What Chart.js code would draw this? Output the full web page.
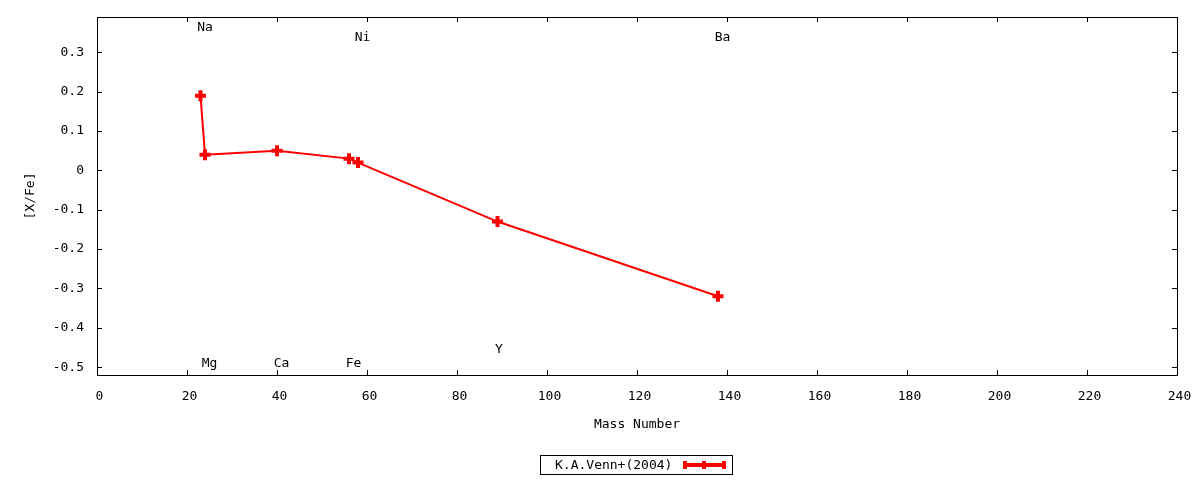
<!DOCTYPE html>
<html lang="en">
<head>
  <meta charset="UTF-8" />
  <title>[X/Fe] vs Mass Number</title>
  <script src="https://cdn.jsdelivr.net/npm/chart.js"></script>
  <style>
    html, body { margin: 0; padding: 0; background: #fff; }
    #wrap { width: 1200px; height: 480px; }
  </style>
</head>
<body>
<div id="wrap"><canvas id="abund"></canvas></div>
<script>
  // data
  const elements = ["Na", "Mg", "Ca", "Fe", "Ni", "Y", "Ba"];
  const massNumber = [23, 24, 40, 56, 58, 89, 138];
  const xFe = [0.19, 0.04, 0.05, 0.03, 0.02, -0.13, -0.32];
  // where each element name is written
  const labelX = [24, 25, 41, 57, 59, 89.3, 139];
  const labelY = [0.362, -0.492, -0.492, -0.492, 0.338, -0.455, 0.338];
  const xTicks = [0, 20, 40, 60, 80, 100, 120, 140, 160, 180, 200, 220, 240];
  const yTicks = [-0.5, -0.4, -0.3, -0.2, -0.1, 0, 0.1, 0.2, 0.3];
  const seriesName = "K.A.Venn+(2004)";

  const FONT = "'DejaVu Sans Mono', monospace";

  // frame, inward ticks on all four sides, element labels and the boxed key
  const gnuplotLook = {
    id: "gnuplotLook",
    afterDatasetsDraw(chart) {
      const { ctx, chartArea: a, scales } = chart;
      const xs = scales.x, ys = scales.y;
      ctx.save();
      ctx.strokeStyle = "#000";
      ctx.lineWidth = 1;
      ctx.beginPath();
      xs.ticks.forEach(t => {
        const px = Math.round(xs.getPixelForValue(t.value)) + 0.5;
        ctx.moveTo(px, a.bottom); ctx.lineTo(px, a.bottom - 5);
        ctx.moveTo(px, a.top); ctx.lineTo(px, a.top + 5);
      });
      ys.ticks.forEach(t => {
        const py = Math.round(ys.getPixelForValue(t.value)) + 0.5;
        ctx.moveTo(a.left, py); ctx.lineTo(a.left + 5, py);
        ctx.moveTo(a.right, py); ctx.lineTo(a.right - 5, py);
      });
      ctx.stroke();
      ctx.strokeRect(Math.round(a.left) + 0.5, Math.round(a.top) + 0.5,
                     Math.round(a.right - a.left), Math.round(a.bottom - a.top));

      ctx.fillStyle = "#000";
      ctx.font = "13px " + FONT;
      ctx.textAlign = "center";
      ctx.textBaseline = "middle";
      elements.forEach((el, i) => {
        ctx.fillText(el, xs.getPixelForValue(labelX[i]), ys.getPixelForValue(labelY[i]));
      });

      // key
      const ds = chart.data.datasets[0];
      const bx = 540.5, by = 455.5, bw = 192, bh = 19;
      ctx.strokeRect(bx, by, bw, bh);
      ctx.textAlign = "left";
      ctx.fillText(ds.label, 555, by + bh / 2 + 1);
      ctx.strokeStyle = ds.borderColor;
      ctx.lineWidth = 4;
      const cy = by + bh / 2;
      ctx.beginPath();
      ctx.moveTo(683, cy); ctx.lineTo(726, cy);
      [685, 704, 724].forEach(px => { ctx.moveTo(px, cy - 4); ctx.lineTo(px, cy + 4); });
      ctx.stroke();
      ctx.restore();
    }
  };

  new Chart(document.getElementById("abund"), {
    type: "line",
    data: {
      datasets: [{
        label: seriesName,
        data: massNumber.map((m, i) => ({ x: m, y: xFe[i] })),
        borderColor: "#ff0000",
        backgroundColor: "#ff0000",
        borderWidth: 2,
        pointStyle: "cross",
        pointRadius: 5.5,
        pointBorderWidth: 4,
        pointBorderColor: "#ff0000",
        tension: 0
      }]
    },
    options: {
      responsive: true,
      maintainAspectRatio: false,
      animation: false,
      layout: { padding: { top: 17, right: 23, left: 0, bottom: 0 } },
      plugins: { legend: { display: false }, tooltip: { enabled: false } },
      scales: {
        x: {
          type: "linear",
          min: 0, max: 240,
          afterBuildTicks: s => { s.ticks = xTicks.map(v => ({ value: v })); },
          afterFit: s => { s.height = 105; s.paddingLeft = 0; s.paddingRight = 0; },
          grid: { display: false, drawTicks: false },
          border: { display: false },
          ticks: { color: "#000", padding: 14, labelOffset: 2.5, maxRotation: 0,
                   font: { family: FONT, size: 13 }, callback: v => String(v) },
          title: { display: true, text: "Mass Number", color: "#000",
                   font: { family: FONT, size: 13 }, padding: { top: 0, bottom: 48 } }
        },
        y: {
          type: "linear",
          min: -0.52, max: 0.39,
          afterBuildTicks: s => { s.ticks = yTicks.map(v => ({ value: v })); },
          afterFit: s => { s.width = 97; s.paddingTop = 0; s.paddingBottom = 0; },
          grid: { display: false, drawTicks: false },
          border: { display: false },
          ticks: { color: "#000", padding: 13, font: { family: FONT, size: 13 },
                   callback: v => String(+v.toFixed(1)) },
          title: { display: true, text: "[X/Fe]", color: "#000",
                   font: { family: FONT, size: 13 }, padding: { top: 23, bottom: 0 } }
        }
      }
    },
    plugins: [gnuplotLook]
  });
</script>
</body>
</html>
